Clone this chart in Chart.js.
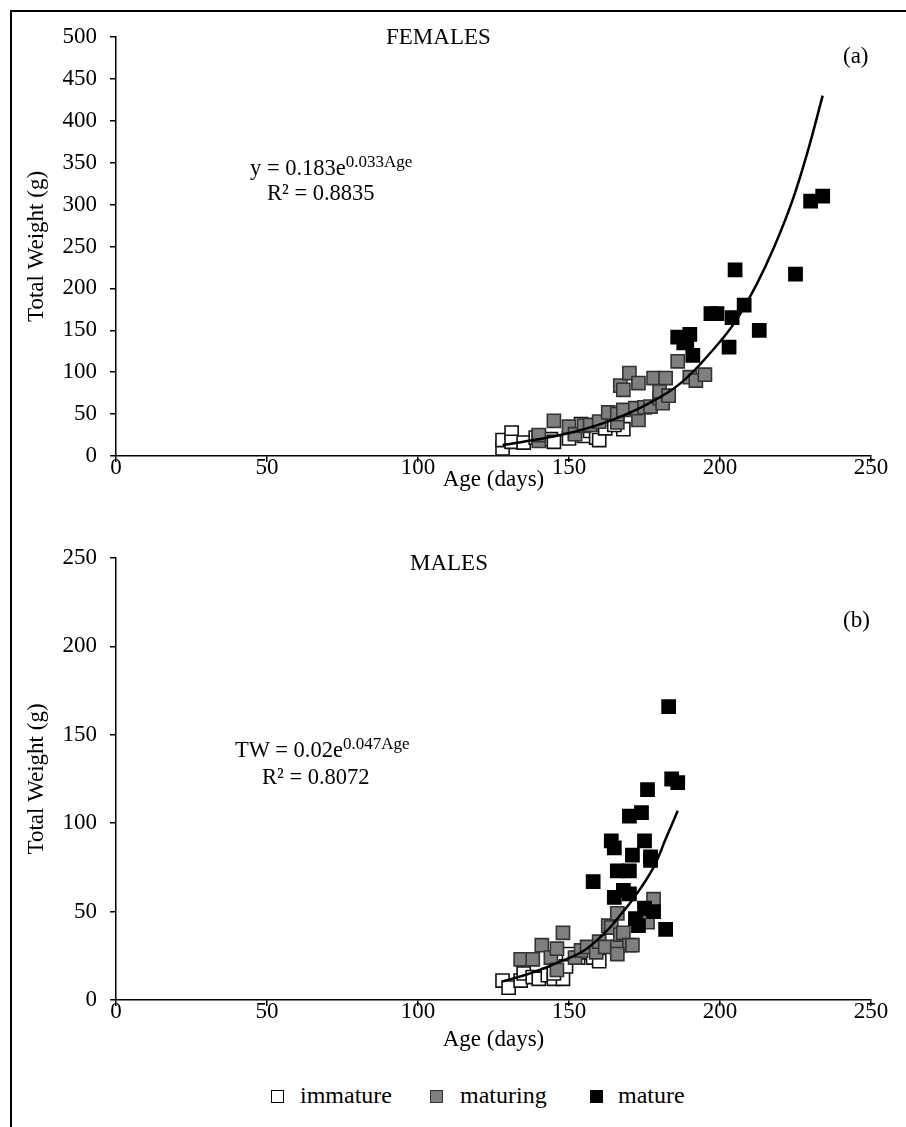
<!DOCTYPE html>
<html>
<head>
<meta charset="utf-8">
<script src="https://cdn.jsdelivr.net/npm/chart.js@4.4.1/dist/chart.umd.min.js"></script>
<style>
  body { margin: 0; background: #fff; }
  #page { position: relative; width: 906px; height: 1127px; overflow: hidden; font-family: "Liberation Serif", "Times New Roman", serif; color: #000; }
  #frame { position: absolute; left: 10px; top: 10px; width: 920px; height: 1140px; border-left: 2px solid #000; border-top: 2px solid #000; }
  canvas { position: absolute; left: 0; }
  .lbl { position: absolute; font-size: 23px; white-space: nowrap; transform: translateY(-50%); }
  .eq { font-size: 22.5px; }
  .eq sup { font-size: 17px; vertical-align: 8px; line-height: 0; }
  .legend { position: absolute; top: 1097px; font-family: "Liberation Serif", "Times New Roman", serif; font-size: 24px; }
  .legend span.box { position: absolute; width: 11px; height: 11px; border: 1.5px solid #000; top: -7px; }
  .legend span.txt { position: absolute; top: -15px; white-space: nowrap; font-family: "Liberation Serif", serif; }
</style>
</head>
<body>
<div id="page">
  <div id="frame"></div>
  <canvas id="a" width="906" height="516" style="top:0"></canvas>
  <canvas id="b" width="906" height="540" style="top:520px"></canvas>

  <div class="lbl" style="left:386px;top:37px">FEMALES</div>
  <div class="lbl" style="left:843px;top:56px">(a)</div>
  <div class="lbl eq" style="left:250px;top:168px">y = 0.183e<sup>0.033Age</sup></div>
  <div class="lbl eq" style="left:267px;top:193px">R² = 0.8835</div>

  <div class="lbl" style="left:410px;top:563px">MALES</div>
  <div class="lbl" style="left:843px;top:620px">(b)</div>
  <div class="lbl eq" style="left:235px;top:750px">TW = 0.02e<sup>0.047Age</sup></div>
  <div class="lbl eq" style="left:262px;top:777px">R² = 0.8072</div>

  <div class="legend" style="left:271px"><span class="box" style="background:#fff"></span><span class="txt" style="left:29px">immature</span></div>
  <div class="legend" style="left:430px"><span class="box" style="background:#7f7f7f;border-color:#333"></span><span class="txt" style="left:30px">maturing</span></div>
  <div class="legend" style="left:590px"><span class="box" style="background:#000"></span><span class="txt" style="left:28px">mature</span></div>
</div>

<script>
// [age (days), total weight (g)]

const femImmature = [
  [128, 9], [128, 19], [131, 28], [131, 17], [135, 16], [139, 22], [140, 24], [144, 20],
  [145, 17], [150, 21], [152, 27], [154, 38], [155, 24], [157, 30], [159, 22], [160, 19],
  [162, 33], [168, 32], [165, 37]
]
const femMaturing = [
  [140, 18], [140, 25], [145, 42], [150, 35], [152, 26], [155, 36], [157, 37], [160, 41],
  [163, 52], [166, 40], [166, 50], [168, 55], [167, 84], [170, 99], [168, 79], [173, 87],
  [173, 43], [172, 57], [175, 58], [178, 93], [177, 59], [180, 69], [181, 63], [182, 93],
  [180, 77], [186, 113], [190, 94], [192, 90], [195, 97], [183, 72]
]
const femMature = [
  [186, 142], [188, 135], [189, 136], [190, 145], [191, 120], [197, 170], [199, 170],
  [203, 130], [204, 165], [205, 222], [208, 180], [213, 150], [225, 217], [230, 304], [234, 310]
]
const femTrend = [
  [128, 13], [143, 22], [154, 31], [165, 44], [176, 62], [187, 87], [198, 128], [205, 160],
  [212, 204], [218, 250], [224, 305], [229, 363], [234, 430]
]

const maleImmature = [
  [128, 11], [130, 7], [134, 11], [135, 15], [138, 13], [140, 12], [143, 14], [145, 12],
  [147, 16], [148, 12], [149, 19], [150, 26], [153, 24], [156, 27], [158, 24], [160, 22], [145, 15]
]
const maleMaturing = [
  [134, 23], [138, 23], [141, 31], [144, 24], [146, 29], [146, 17], [148, 38], [152, 24],
  [154, 28], [156, 30], [159, 27], [160, 33], [162, 30], [163, 42], [164, 41], [166, 30],
  [166, 49], [167, 37], [168, 38], [170, 31], [171, 31], [176, 44], [178, 57], [166, 26]
]
const maleMature = [
  [183, 166], [184, 125], [186, 123], [176, 119], [174, 106], [170, 104], [164, 90], [165, 86],
  [175, 90], [171, 82], [177, 81], [166, 73], [170, 73], [158, 67], [168, 62], [165, 58],
  [170, 60], [175, 52], [178, 50], [172, 46], [173, 42], [182, 40], [177, 79]
]
const maleTrend = [
  [128, 10.5], [137, 15], [146, 21], [155, 28], [163, 40], [166, 46], [172, 59],
  [178, 75], [182, 91], [186, 107]
]

const xTicks = [0, 50, 100, 150, 200, 250]
const femYMax = 500
const maleYMax = 250

const FONT = { family: '"Liberation Serif", "Times New Roman", serif', size: 23 }

const pts = arr => arr.map(([x, y]) => ({ x, y }))

const scatter = (label, data, fill, border, order) => ({
  type: 'scatter',
  label,
  data: pts(data),
  pointStyle: 'rect',
  pointRadius: 9.3,
  pointHoverRadius: 9.3,
  backgroundColor: fill,
  borderColor: border,
  borderWidth: 1.6,
  order
})

const makeChart = (id, sets, yMax, yStep, pad) => {
  new Chart(document.getElementById(id), {
    type: 'scatter',
    data: {
      datasets: [
        {
          type: 'line',
          label: 'trend',
          data: pts(sets.trend),
          borderColor: '#000',
          borderWidth: 2.5,
          pointRadius: 0,
          tension: 0.4,
          fill: false,
          order: 0
        },
        scatter('mature', sets.mature, '#000', '#000', 1),
        scatter('maturing', sets.maturing, '#7f7f7f', '#333', 2),
        scatter('immature', sets.immature, '#fff', '#111', 3)
      ]
    },
    options: {
      responsive: false,
      animation: false,
      layout: { padding: { top: pad.top, right: 35, left: 0, bottom: 0 } },
      plugins: { legend: { display: false }, tooltip: { enabled: false } },
      scales: {
        x: {
          type: 'linear',
          min: 0,
          max: 250,
          afterBuildTicks: s => { s.ticks = xTicks.map(v => ({ value: v })) },
          afterFit: s => { s.height = 60 },
          grid: { drawOnChartArea: false, drawTicks: true, tickLength: 6, color: '#000', lineWidth: 1.5 },
          border: { color: '#000', width: 1.5 },
          ticks: { color: '#000', font: FONT, padding: -8, maxRotation: 0 },
          title: { display: true, text: 'Age (days)', color: '#000', font: FONT, padding: { top: 0, bottom: pad.xTitle } }
        },
        y: {
          min: 0,
          max: yMax,
          afterFit: s => { s.width = 116 },
          grid: { drawOnChartArea: false, drawTicks: true, tickLength: 6, color: '#000', lineWidth: 1.5 },
          border: { color: '#000', width: 1.5 },
          ticks: { color: '#000', font: FONT, padding: 13, stepSize: yStep },
          title: { display: true, text: 'Total Weight (g)', color: '#000', font: FONT, padding: { top: 23, bottom: 0 } }
        }
      }
    }
  })
}

makeChart('a', { immature: femImmature, maturing: femMaturing, mature: femMature, trend: femTrend },
  femYMax, 50, { top: 37, xTitle: 22 })

makeChart('b', { immature: maleImmature, maturing: maleMaturing, mature: maleMature, trend: maleTrend },
  maleYMax, 50, { top: 38, xTitle: 6 })
</script>
</body>
</html>
